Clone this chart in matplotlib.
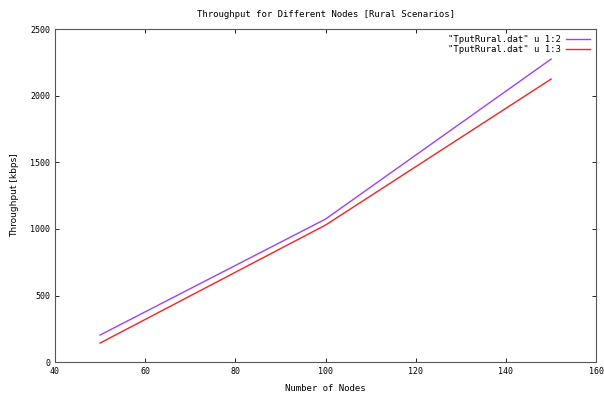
import matplotlib
matplotlib.use("Agg")
from matplotlib import pyplot as plt

nodes = [50, 100, 150]
tput_col2 = [203, 1074, 2275]
tput_col3 = [143, 1029, 2125]
labels = ['"TputRural.dat" u 1:2', '"TputRural.dat" u 1:3']

plt.rcParams['font.family'] = ['DejaVu Sans Mono']

fig = plt.figure(figsize=(6.04, 3.94), dpi=100)
ax = fig.add_axes([0.091, 0.081, 0.896, 0.845])

ax.plot(nodes, tput_col2, color='#a040ff', lw=1.0, label=labels[0])
ax.plot(nodes, tput_col3, color='#ff2020', lw=1.0, label=labels[1])

ax.set_xlim(40, 160)
ax.set_ylim(0, 2500)
ax.set_xticks(range(40, 161, 20))
ax.set_yticks(range(0, 2501, 500))
ax.tick_params(direction='in', top=True, right=True, labelsize=6, length=3, width=0.6)
for s in ax.spines.values():
    s.set_linewidth(0.8)
    s.set_color('#555555')

ax.set_title('Throughput for Different Nodes [Rural Scenarios]', fontsize=6.5, pad=9)
ax.set_xlabel('Number of Nodes', fontsize=6.5, labelpad=6)
ax.set_ylabel('Throughput [kbps]', fontsize=6.5, labelpad=8, family='DejaVu Sans')

ax.legend(loc='upper right', frameon=False, fontsize=6.5, markerfirst=False,
          handlelength=2.6, handletextpad=0.6, labelspacing=0.05, borderaxespad=0.3)

fig.savefig('out.png', dpi=100)
